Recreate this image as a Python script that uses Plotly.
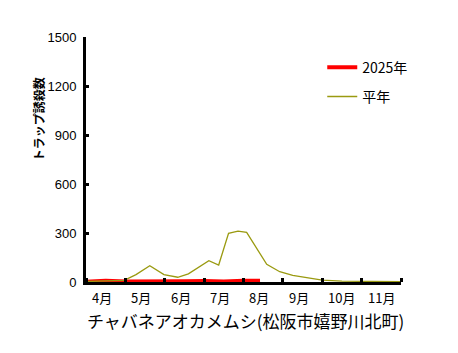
import plotly.graph_objects as go

# x in months from April 1 (0 = Apr 1, 8 = Dec 1)
normal_x = [0.0, 0.45, 0.97, 1.27, 1.62, 1.98, 2.33, 2.60, 3.12, 3.37, 3.62, 3.86, 4.08, 4.59, 4.92, 5.25, 5.68, 6.0, 6.5, 7.0, 7.5, 8.0]
normal_y = [3, 5, 10, 45, 100, 45, 29, 50, 130, 104, 298, 312, 304, 108, 63, 40, 22, 12, 5, 3, 2, 2]

y2025_x = [0.0, 0.5, 1.0, 1.5, 2.0, 2.5, 3.0, 3.5, 4.0, 4.42]
y2025_y = [2, 8, 3, 2, 3, 4, 6, 3, 7, 8]

month_labels = ["4月", "5月", "6月", "7月", "8月", "9月", "10月", "11月"]
month_bounds = [0, 1, 2, 3, 4, 5, 6, 7, 8]
y_ticks = [0, 300, 600, 900, 1200, 1500]

jp = "Noto Sans CJK JP"

fig = go.Figure()
fig.add_trace(go.Scatter(x=y2025_x, y=y2025_y, mode="lines", name="2025年",
                         legendgroup="a",
                         line=dict(color="#FF0000", width=4)))
fig.add_trace(go.Scatter(x=normal_x, y=normal_y, mode="lines", name="平年",
                         legendgroup="b",
                         line=dict(color="#9A9A10", width=1.3)))

annotations = [
    dict(text=lab, xref="x", yref="paper", x=month_bounds[i] + 0.1, y=-0.065,
         xanchor="left", yanchor="middle", showarrow=False,
         font=dict(family=jp, size=13, color="black"))
    for i, lab in enumerate(month_labels)
]
annotations += [
    dict(text="チャバネアオカメムシ(松阪市嬉野川北町)", xref="paper", yref="paper",
         x=0.505, y=-0.158, xanchor="center", yanchor="middle", showarrow=False,
         font=dict(family=jp, size=17, color="black")),
    dict(text="<b>トラップ誘殺数</b>", xref="paper", yref="paper", textangle=-90,
         x=-0.152, y=0.665, xanchor="center", yanchor="middle", showarrow=False,
         font=dict(family=jp, size=12, color="black")),
]

fig.update_layout(
    width=458, height=353,
    margin=dict(l=86, r=57, t=37, b=71),
    plot_bgcolor="white", paper_bgcolor="white",
    showlegend=True,
    legend=dict(x=0.75, y=0.94, xanchor="left", yanchor="top",
                font=dict(family=jp, size=14, color="black"),
                bgcolor="rgba(0,0,0,0)", tracegroupgap=8, itemwidth=30),
    xaxis=dict(range=[0, 8], showticklabels=False,
               ticks="", showgrid=False, zeroline=False,
               showline=True, linecolor="black", linewidth=3,
               minor=dict(tickvals=month_bounds, ticks="inside", ticklen=4,
                          tickwidth=3, tickcolor="black", showgrid=False)),
    yaxis=dict(range=[0, 1500], tickvals=y_ticks, ticks="inside", ticklen=3,
               tickwidth=3, tickcolor="black", showgrid=False, zeroline=False,
               showline=True, linecolor="black", linewidth=3, ticklabelstandoff=4,
               tickfont=dict(family="Liberation Sans", size=13, color="black")),
    annotations=annotations,
)

fig.write_html("out.html")
